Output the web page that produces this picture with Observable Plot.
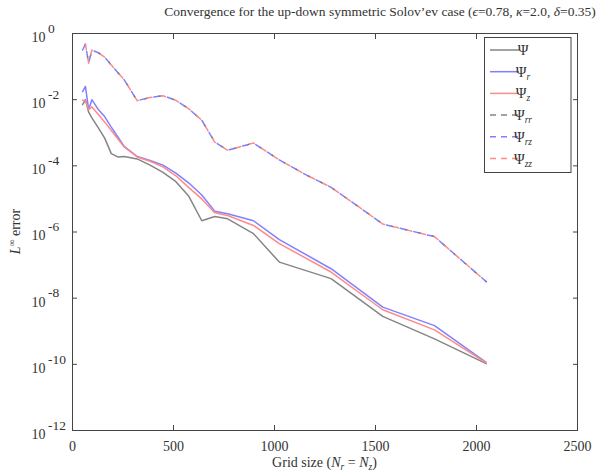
<!DOCTYPE html>
<html>
<head>
<meta charset="utf-8">
<script src="https://cdn.jsdelivr.net/npm/d3@7"></script>
<script src="https://cdn.jsdelivr.net/npm/@observablehq/plot@0.6"></script>
<style>
  html, body { margin: 0; padding: 0; background: #fff; }
  #wrap { position: relative; width: 597px; height: 472px; overflow: hidden; font-family: "Liberation Serif", "DejaVu Serif", serif; color: #333; }
  #title { height: 22px; width: 760px; text-align: center; font-size: 13.5px; line-height: 24px; white-space: nowrap; }
  #chart svg { display: block; }
</style>
</head>
<body>
<div id="wrap">
  <div id="title">Convergence for the up-down symmetric Solov’ev case (<i>ϵ</i>=0.78, <i>κ</i>=2.0, <i>δ</i>=0.35)</div>
  <div id="chart"></div>
</div>
<script>
// Grid sizes (Nr = Nz)
const gridN = [50, 64, 80, 96, 128, 160, 192, 224, 256, 320, 384, 448, 512, 576, 640, 704, 768, 896, 1024, 1280, 1536, 1792, 2048];
const gridND = [50, 64, 80, 96, 128, 160, 192, 224, 256, 320, 384, 448, 512, 576, 640, 704, 768, 896, 1024, 1152, 1280, 1408, 1536, 1664, 1792, 2048];

// L-infinity errors
const errPsi  = [7.08e-3, 1.00e-2, 4.17e-3, 2.82e-3, 1.41e-3, 6.76e-4, 2.34e-4, 1.86e-4, 1.91e-4, 1.62e-4, 1.05e-4, 6.31e-5, 3.31e-5, 1.20e-5, 2.19e-6, 2.95e-6, 2.51e-6, 8.91e-7, 1.23e-7, 3.89e-8, 2.82e-9, 5.89e-10, 1.05e-10];
const errPsiR = [1.74e-2, 2.51e-2, 5.01e-3, 1.00e-2, 5.01e-3, 3.02e-3, 1.48e-3, 7.59e-4, 3.89e-4, 1.91e-4, 1.45e-4, 1.05e-4, 6.03e-5, 3.02e-5, 1.32e-5, 4.27e-6, 3.55e-6, 2.19e-6, 5.89e-7, 7.76e-8, 5.37e-9, 1.48e-9, 1.15e-10];
const errPsiZ = [9.55e-3, 9.33e-3, 5.01e-3, 6.03e-3, 3.55e-3, 2.09e-3, 1.17e-3, 6.61e-4, 3.72e-4, 1.86e-4, 1.38e-4, 9.33e-5, 5.01e-5, 2.19e-5, 1.00e-5, 3.80e-6, 3.16e-6, 1.58e-6, 4.47e-7, 6.17e-8, 4.47e-9, 1.10e-9, 1.10e-10];
const errPsiRR = [3.16e-1, 4.79e-1, 1.26e-1, 3.16e-1, 2.63e-1, 1.91e-1, 1.12e-1, 6.61e-2, 3.98e-2, 9.33e-3, 1.17e-2, 1.32e-2, 9.55e-3, 5.25e-3, 2.40e-3, 5.25e-4, 2.95e-4, 4.90e-4, 1.51e-4, 5.50e-5, 2.24e-5, 6.31e-6, 1.74e-6, 1.12e-6, 7.24e-7, 3.16e-8];
const errPsiRZ = [3.16e-1, 4.79e-1, 1.26e-1, 3.16e-1, 2.63e-1, 1.91e-1, 1.12e-1, 6.61e-2, 3.98e-2, 9.33e-3, 1.17e-2, 1.32e-2, 9.55e-3, 5.25e-3, 2.40e-3, 5.25e-4, 2.95e-4, 4.90e-4, 1.51e-4, 5.50e-5, 2.24e-5, 6.31e-6, 1.74e-6, 1.12e-6, 7.24e-7, 3.16e-8];
const errPsiZZ = [3.16e-1, 4.79e-1, 1.26e-1, 3.16e-1, 2.63e-1, 1.91e-1, 1.12e-1, 6.61e-2, 3.98e-2, 9.33e-3, 1.17e-2, 1.32e-2, 9.55e-3, 5.25e-3, 2.40e-3, 5.25e-4, 2.95e-4, 4.90e-4, 1.51e-4, 5.50e-5, 2.24e-5, 6.31e-6, 1.74e-6, 1.12e-6, 7.24e-7, 3.16e-8];

// Ticks
const xTicks = [0, 500, 1000, 1500, 2000, 2500];
const xTickLabels = ["0", "500", "1000", "1500", "2000", "2500"];
const yTicks = [1, 1e-2, 1e-4, 1e-6, 1e-8, 1e-10, 1e-12];
const yTickExp = ["0", "-2", "-4", "-6", "-8", "-10", "-12"];

// Legend
const seriesNames = [
  {base: "Ψ", sub: ""}, {base: "Ψ", sub: "r"}, {base: "Ψ", sub: "z"},
  {base: "Ψ", sub: "rr"}, {base: "Ψ", sub: "rz"}, {base: "Ψ", sub: "zz"}
];
const seriesColors = ["#858585", "#8080ff", "#ff8a8a", "#858585", "#8080ff", "#ff8a8a"];
const seriesDash = [null, null, null, "6 5", "6 5", "6 5"];

const FONT = '"Liberation Serif", "DejaVu Serif", serif';
const AX = "#444";

const chart = Plot.plot({
  width: 597,
  height: 450,
  marginTop: 11,
  marginBottom: 42,
  marginLeft: 72,
  marginRight: 20,
  style: {fontFamily: FONT, fontSize: "14px", color: "#333", background: "white", overflow: "visible"},
  x: {domain: [0, 2500]},
  y: {type: "log", domain: [1e-12, 1]},
  marks: [
    Plot.axisX(xTicks, {anchor: "bottom", tickSize: -5, tickPadding: 16, label: null, stroke: AX, fontSize: 14,
      tickFormat: d => xTickLabels[xTicks.indexOf(d)]}),
    Plot.axisX(xTicks, {anchor: "top", tickSize: -5, label: null, stroke: AX, tickFormat: () => ""}),
    Plot.axisY(yTicks, {anchor: "left", tickSize: -5, label: null, stroke: AX, tickFormat: () => ""}),
    Plot.axisY(yTicks, {anchor: "right", tickSize: -5, label: null, stroke: AX, tickFormat: () => ""}),
    Plot.text(yTicks, {y: d => d, frameAnchor: "left", text: () => "10", textAnchor: "end", dx: -27, dy: 4, fill: "#333", fontSize: 14}),
    Plot.text(yTicks, {y: d => d, frameAnchor: "left", text: (d, i) => yTickExp[i], textAnchor: "start", dx: -24.5, dy: -5, fill: "#333", fontSize: 13.5}),
    Plot.line(gridN, {x: gridN, y: errPsi, stroke: seriesColors[0], strokeWidth: 1.5}),
    Plot.line(gridN, {x: gridN, y: errPsiR, stroke: seriesColors[1], strokeWidth: 1.5}),
    Plot.line(gridN, {x: gridN, y: errPsiZ, stroke: seriesColors[2], strokeWidth: 1.5}),
    Plot.line(gridND, {x: gridND, y: errPsiRR, stroke: "#666", strokeWidth: 1.5, strokeDasharray: "2 12", strokeDashoffset: -5}),
    Plot.line(gridND, {x: gridND, y: errPsiRZ, stroke: seriesColors[4], strokeWidth: 1.5, strokeDasharray: "5 9", strokeDashoffset: 0}),
    Plot.line(gridND, {x: gridND, y: errPsiZZ, stroke: seriesColors[5], strokeWidth: 1.5, strokeDasharray: "5 9", strokeDashoffset: -7}),
    Plot.frame({stroke: AX, strokeWidth: 1})
  ]
});

document.getElementById("chart").appendChild(chart);

// Axis labels with sub/superscripts
const svg = d3.select(chart);
const xl = svg.append("text")
  .attr("x", 324.5).attr("y", 445)
  .attr("text-anchor", "middle")
  .attr("font-family", FONT).attr("font-size", 14).attr("fill", "#333");
xl.append("tspan").text("Grid size (");
xl.append("tspan").attr("font-style", "italic").text("N");
xl.append("tspan").attr("font-style", "italic").attr("font-size", 9.5).attr("dy", 3).text("r");
xl.append("tspan").attr("dy", -3).text(" = ");
xl.append("tspan").attr("font-style", "italic").text("N");
xl.append("tspan").attr("font-style", "italic").attr("font-size", 9.5).attr("dy", 3).text("z");
xl.append("tspan").attr("dy", -3).text(")");

const yl = svg.append("text")
  .attr("transform", "translate(20,209.5) rotate(-90)")
  .attr("text-anchor", "middle")
  .attr("font-family", FONT).attr("font-size", 14).attr("fill", "#333");
yl.append("tspan").attr("font-style", "italic").text("L");
yl.append("tspan").attr("font-size", 9.5).attr("dy", -5).text("∞");
yl.append("tspan").attr("dy", 5).text(" error");

// Legend
const lg = svg.append("g");
lg.append("rect").attr("x", 484.5).attr("y", 15.5).attr("width", 86.5).attr("height", 135)
  .attr("fill", "white").attr("stroke", AX).attr("stroke-width", 1);
seriesNames.forEach((s, i) => {
  const y = 28 + i * 21.7;
  lg.append("line").attr("x1", 490).attr("x2", 519).attr("y1", y).attr("y2", y)
    .attr("stroke", seriesColors[i]).attr("stroke-width", 1.5)
    .attr("stroke-dasharray", seriesDash[i]);
  const t = lg.append("text").attr("x", 523).attr("y", y + 5)
    .attr("font-family", FONT).attr("font-size", 14.5).attr("fill", "#333");
  t.append("tspan").text(s.base);
  if (s.sub) t.append("tspan").attr("font-style", "italic").attr("font-size", 9.5).attr("dy", 3).text(s.sub);
});
</script>
</body>
</html>
